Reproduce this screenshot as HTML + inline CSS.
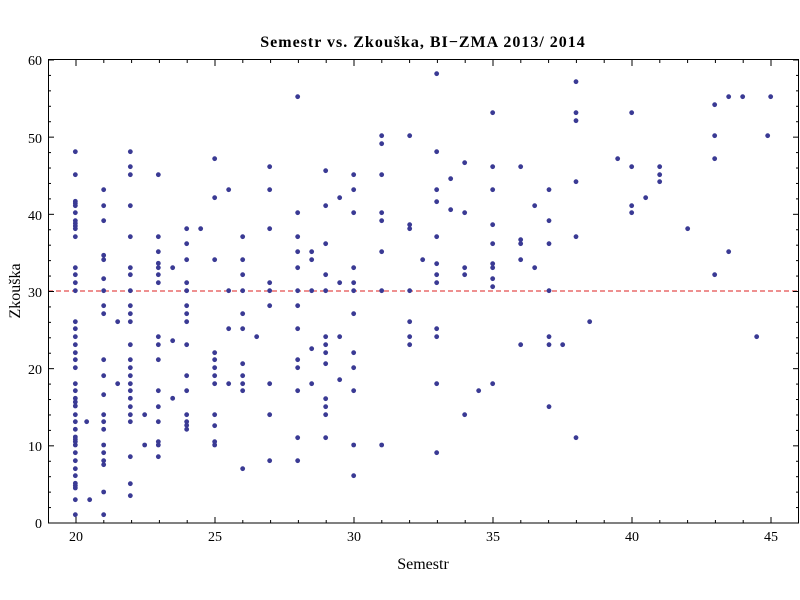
<!DOCTYPE html>
<html><head><meta charset="utf-8"><style>body{margin:0;background:#fff}svg{display:block}</style></head><body>
<svg width="800" height="600" xmlns="http://www.w3.org/2000/svg" font-family="Liberation Serif, serif">
<rect width="800" height="600" fill="#fff"/>
<text x="423" y="47" text-anchor="middle" font-weight="bold" font-size="16" letter-spacing="1">Semestr vs. Zkouška, BI−ZMA 2013/ 2014</text>
<line x1="48" y1="291" x2="799" y2="291" stroke="#d22" stroke-width="1" stroke-dasharray="5,3"/>
<g id="ticks" stroke="#000" stroke-width="1"></g>
<rect x="48.5" y="59.5" width="750" height="463.5" fill="none" stroke="#000" stroke-width="1"/>
<g font-size="14" text-anchor="middle">
<text x="76" y="541">20</text><text x="215" y="541">25</text><text x="354" y="541">30</text><text x="493" y="541">35</text><text x="632" y="541">40</text><text x="771" y="541">45</text>
</g>
<g font-size="14" text-anchor="end">
<text x="42" y="528">0</text><text x="42" y="451">10</text><text x="42" y="374">20</text><text x="42" y="297">30</text><text x="42" y="220">40</text><text x="42" y="143">50</text><text x="42" y="65">60</text>
</g>
<text x="423" y="569" text-anchor="middle" font-size="16">Semestr</text>
<text transform="translate(20,291) rotate(-90)" text-anchor="middle" font-size="16">Zkouška</text>
<g id="pts" fill="#3a3a94"></g>
<script>
var NS="http://www.w3.org/2000/svg";
var t=document.getElementById("ticks");
function L(a,b,c,d){var l=document.createElementNS(NS,"line");l.setAttribute("x1",a);l.setAttribute("y1",b);l.setAttribute("x2",c);l.setAttribute("y2",d);t.appendChild(l);}
for(var v=19;v<=46;v++){var x=76+(v-20)*27.8;if(x<49||x>798)continue;var s=(v%5==0)?6:3;L(x,523,x,523-s);L(x,60,x,60+s);}
for(var v=0;v<=60;v+=2){var y=523-v*7.717;var s=(v%10==0)?6:3;L(48,y,48+s,y);L(799,y,799-s,y);}
var D=[
[40,[[106,[335,404,484,490,497,518,542,550,558,566,590,683,704,728,752,845,866,890,914,938,959,983,1031,1052,1075,1086,1098,1124,1145,1168,1191,1198,1205,1215,1238,1262,1286,1307,1330,1337,1344,1379,1424]],
[140,[1145]],[149,[1379]],
[191,[449,497,542,646,659,716,752,797,821,959,1007,1064,1124,1145,1168,1215,1238,1262,1274,1356,1424]],
[233,[845,1031]],
[271,[335,380,404,497,590,683,704,752,797,821,845,914,959,983,1007,1031,1052,1075,1100,1124,1145,1250,1331,1367]],
[314,[1124,1215]],
[355,[404,590,635,670,683,704,728,890,914,959,1052,1100,1145,1205,1215,1250]],
[398,[683,902,1075]],
[440,[566,611,659,728,752,797,821,845,914,1007,1052,1124,1145,1156,1168]],
[482,[566]],
[524,[356,473,659,938,959,983,1007,1031,1124,1157,1205,1215]],
[566,[449,752,866,1031]],
[608,[590,659,704,752,821,866,971,1007,1031,1052,1286]],
[650,[890]],
[689,[380,449,566,728,752,797,1031,1124,1262]],
[773,[170,518,590,635,683,752,797,866,959,983,1052,1193,1262]]]],
[300,[[35,[635,659,752,926,1031]],
[77,[392,497,611,704,752,890,914,938,971,1076,1100,1124,1193]],
[119,[473,728,890,1019]],
[161,[404,449,518,683,728,752,821,938,983,1052,1215,1307]],
[245,[287,311,404,518,542,635,752,1215]],
[329,[287,554,566,752,845,890,914]],
[368,[659]],
[410,[101,335,449,485,590,671,704,728,866,890,1031,1238]],
[452,[416,509]],
[494,[368,518,683,704,1124]],
[536,[1052]],
[578,[218,380,449,554,611,671,683,716,740,1031]],
[662,[380,599,611,659,914]],
[704,[497,683]]]],
[540,[[27,[449,542,611,752,890,914,1100]],[68,[914]],
[108,[125,218,242,425,590,1193]],[149,[845]],[233,[356]],
[275,[218,380,497,518]],[317,[473]],[359,[380,404,425]],[443,[566]],
[524,[194,287,356,704]],[566,[170,635]],[608,[170]],[650,[890]],[683,[287]],[692,[170]]]]];
var g=document.getElementById("pts");
D.forEach(function(z){z[1].forEach(function(c){c[1].forEach(function(Y){var e=document.createElementNS(NS,"circle");e.setAttribute("cx",z[0]+c[0]/3);e.setAttribute("cy",40+Y/3);e.setAttribute("r",2.4);g.appendChild(e);});});});
</script>
</svg>
</body></html>
